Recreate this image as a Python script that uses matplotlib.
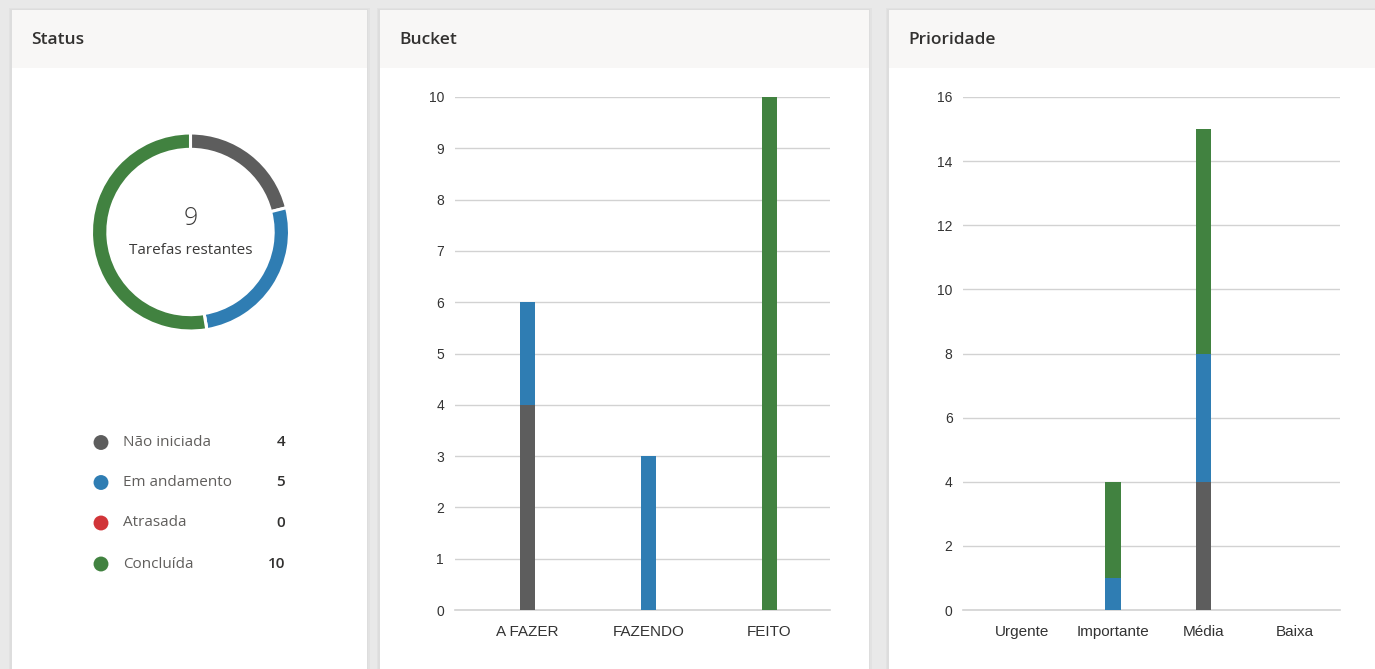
import matplotlib
matplotlib.use("Agg")
import matplotlib.pyplot as plt
from matplotlib.patches import Rectangle
import numpy as np

# ---------------- data ----------------
status_labels = ["Não iniciada", "Em andamento", "Atrasada", "Concluída"]
status_values = [4, 5, 0, 10]
status_colors = ["#5d5d5d", "#2f7db3", "#d13438", "#418240"]

bucket_cats = ["A FAZER", "FAZENDO", "FEITO"]
bucket_nao = [4, 0, 0]
bucket_andamento = [2, 3, 0]
bucket_atrasada = [0, 0, 0]
bucket_concluida = [0, 0, 10]
bucket_yticks = [0, 1, 2, 3, 4, 5, 6, 7, 8, 9, 10]

prio_cats = ["Urgente", "Importante", "Média", "Baixa"]
prio_nao = [0, 0, 4, 0]
prio_andamento = [0, 1, 4, 0]
prio_atrasada = [0, 0, 0, 0]
prio_concluida = [0, 3, 7, 0]
prio_yticks = [0, 2, 4, 6, 8, 10, 12, 14, 16]

panel_titles = ["Status", "Bucket", "Prioridade"]
center_caption = "Tarefas restantes"

# ---------------- layout helpers ----------------
W, H = 1375, 669
fig = plt.figure(figsize=(W / 100, H / 100), dpi=100)
fig.patch.set_facecolor("#e9e9e9")

def rect(x0, y0, x1, y1):
    return [x0 / W, 1 - y1 / H, (x1 - x0) / W, (y1 - y0) / H]

UI_FONT = ["Open Sans", "DejaVu Sans"]
CHART_FONT = ["Liberation Sans", "DejaVu Sans"]
TXT = "#323130"

# background overlay
bg = fig.add_axes([0, 0, 1, 1], zorder=0)
bg.set_xlim(0, W)
bg.set_ylim(H, 0)
bg.axis("off")

panels = [(12, 367), (380, 869), (889, 1380)]
for (x0, x1), title in zip(panels, panel_titles):
    # soft shadow
    bg.add_patch(Rectangle((x0 - 3, 8), x1 - x0 + 6, H, facecolor="#e2e2e2", edgecolor="none"))
    bg.add_patch(Rectangle((x0 - 1.5, 9), x1 - x0 + 3, H, facecolor="#dddddd", edgecolor="none"))
    bg.add_patch(Rectangle((x0, 10), x1 - x0, H, facecolor="white", edgecolor="none"))
    bg.add_patch(Rectangle((x0, 10), x1 - x0, 58, facecolor="#f8f7f6", edgecolor="none"))
    bg.text(x0 + 19, 40, title, fontsize=12.5, fontweight="semibold", family=UI_FONT,
            color=TXT, va="center", ha="left")

# ---------------- donut ----------------
cx, cy, r = 190.5, 232, 99
dax = fig.add_axes(rect(cx - r, cy - r, cx + r, cy + r), zorder=1)
dax.pie(status_values, colors=status_colors, startangle=90, counterclock=False,
        radius=1.0, wedgeprops=dict(width=0.165, edgecolor="white", linewidth=2.2))
dax.set_xlim(-1, 1)
dax.set_ylim(-1, 1)
dax.set_aspect("equal")
dax.axis("off")
remaining = sum(status_values) - status_values[-1]
dax.text(0, 0.14, str(remaining), ha="center", va="center", fontsize=18,
         family=UI_FONT, fontweight="light", color="#3b3a39")
dax.text(0, -0.19, center_caption, ha="center", va="center", fontsize=11,
         family=UI_FONT, color="#3b3a39")

# legend
leg_y = [442.5, 482.5, 523, 564]
for y, lab, val, col in zip(leg_y, status_labels, status_values, status_colors):
    bg.scatter([101], [y], s=115, color=col, edgecolors="none", zorder=3)
    bg.text(123, y, lab, fontsize=11, family=UI_FONT, color="#605e5c",
            va="center", ha="left")
    bg.text(285, y, str(val), fontsize=11, family=UI_FONT, color=TXT,
            fontweight="semibold", va="center", ha="right")

# ---------------- bar charts ----------------
def stacked(ax, cats, series, width, yticks, xlim, ylim, ypad):
    x = np.arange(len(cats))
    bottom = np.zeros(len(cats))
    for vals, col in zip(series, status_colors):
        vals = np.array(vals, dtype=float)
        ax.bar(x, vals, width=width, bottom=bottom, color=col, zorder=3, linewidth=0)
        bottom += vals
    ax.set_xlim(*xlim)
    ax.set_ylim(*ylim)
    ax.set_yticks(yticks)
    ax.set_xticks(x)
    ax.set_xticklabels(cats, fontsize=11, family=CHART_FONT, color="#333333")
    for t in ax.get_yticklabels():
        t.set_fontsize(10)
        t.set_family(CHART_FONT)
        t.set_color("#333333")
    ax.grid(axis="y", color="#d2d2d2", linewidth=1, zorder=0)
    ax.set_axisbelow(True)
    for s in ["top", "right", "left"]:
        ax.spines[s].set_visible(False)
    ax.spines["bottom"].set_color("#d2d2d2")
    ax.spines["bottom"].set_linewidth(1.2)
    ax.tick_params(axis="both", length=0)
    ax.tick_params(axis="y", pad=ypad)
    ax.tick_params(axis="x", pad=11)
    ax.set_facecolor("none")

bax = fig.add_axes(rect(455, 97, 830, 610), zorder=1)
stacked(bax, bucket_cats, [bucket_nao, bucket_andamento, bucket_atrasada, bucket_concluida],
        0.124, bucket_yticks, (-0.6, 2.5), (0, 10), 8)

pax = fig.add_axes(rect(963, 97, 1340, 610), zorder=1)
stacked(pax, prio_cats, [prio_nao, prio_andamento, prio_atrasada, prio_concluida],
        0.17, prio_yticks, (-0.65, 3.5), (0, 16), 7.5)

fig.savefig("out.png", dpi=100, facecolor=fig.get_facecolor())
